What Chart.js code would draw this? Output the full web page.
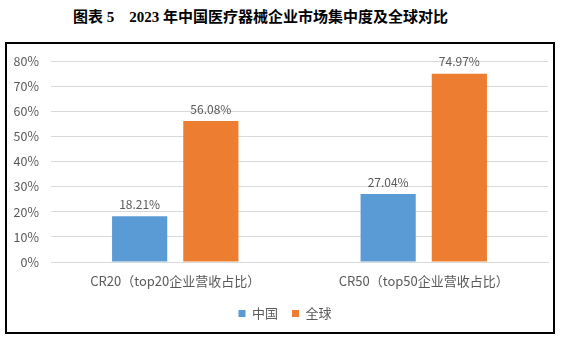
<!DOCTYPE html>
<html>
<head>
<meta charset="utf-8">
<script src="https://cdn.jsdelivr.net/npm/chart.js@4/dist/chart.umd.min.js"></script>
<style>
  html, body { margin: 0; padding: 0; background: #fff; }
  body { width: 564px; height: 338px; position: relative; overflow: hidden; }
  #title {
    position: absolute; left: 73px; top: 7px; white-space: pre;
    font: bold 15px "Liberation Serif", "Noto Sans CJK SC", serif; color: #000;
    line-height: 20px;
  }
  #frame {
    position: absolute; left: 5px; top: 42px; width: 546px; height: 288px;
    border: 2px solid #000;
  }
  #wrap { position: absolute; left: 0; top: 0; width: 564px; height: 338px; }
</style>
</head>
<body>
<div id="title">图表 5    2023 年中国医疗器械企业市场集中度及全球对比</div>
<div id="frame"></div>
<div id="wrap"><canvas id="chart" width="564" height="338"></canvas></div>
<script>
// categories and series (percent)
const categories = ['CR20（top20企业营收占比）', 'CR50（top50企业营收占比）'];
const chinaShare = [18.21, 27.04];
const globalShare = [56.08, 74.97];
const seriesNames = ['中国', '全球'];
const yTicks = [0, 10, 20, 30, 40, 50, 60, 70, 80];

const FONT = '"Microsoft YaHei", "Noto Sans CJK SC", sans-serif';
const GREY = '#595959';

// value labels above each bar
const barLabels = {
    id: 'barLabels',
    afterDatasetsDraw(chart) {
        const ctx = chart.ctx;
        ctx.save();
        ctx.font = '12px ' + FONT;
        ctx.fillStyle = GREY;
        ctx.textAlign = 'center';
        ctx.textBaseline = 'bottom';
        chart.data.datasets.forEach((ds, i) => {
            chart.getDatasetMeta(i).data.forEach((bar, j) => {
                ctx.fillText(ds.data[j].toFixed(2) + '%', bar.x, bar.y - 6);
            });
        });
        ctx.restore();
    }
};

// nudge the legend so it sits centred under the frame
const legendShift = {
    id: 'legendShift',
    afterLayout(chart) {
        if (chart.legend) {
            chart.legend.left += 11;
            chart.legend.right += 11;
        }
    }
};

new Chart(document.getElementById('chart'), {
    type: 'bar',
    data: {
        labels: categories,
        datasets: [
            { label: seriesNames[0], data: chinaShare, backgroundColor: '#5B9BD5' },
            { label: seriesNames[1], data: globalShare, backgroundColor: '#ED7D31' }
        ]
    },
    options: {
        responsive: false,
        animation: false,
        categoryPercentage: 0.573,
        barPercentage: 0.775,
        layout: { padding: { top: 61, right: 16, bottom: 8, left: 0 } },
        plugins: {
            legend: {
                position: 'bottom',
                labels: {
                    boxWidth: 7, boxHeight: 7, padding: 14,
                    color: GREY, font: { size: 13, family: FONT }
                }
            },
            tooltip: { enabled: false }
        },
        scales: {
            x: {
                grid: { display: false },
                border: { color: '#D9D9D9' },
                ticks: { color: GREY, font: { size: 13, family: FONT }, padding: 3 },
                afterFit: (s) => { s.height = 31; }
            },
            y: {
                min: 0, max: 80,
                afterBuildTicks: (s) => { s.ticks = yTicks.map(v => ({ value: v })); },
                grid: { color: '#D9D9D9', drawTicks: false },
                border: { display: false },
                ticks: {
                    color: GREY, font: { size: 12.5, family: FONT }, padding: 12,
                    callback: (v) => v + '%'
                },
                afterFit: (s) => { s.width = 51; }
            }
        }
    },
    plugins: [barLabels, legendShift]
});
</script>
</body>
</html>
